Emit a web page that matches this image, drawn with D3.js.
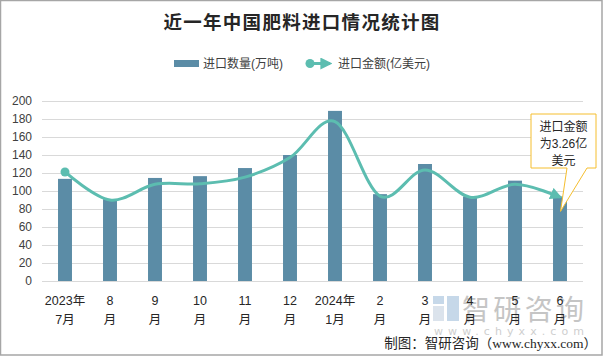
<!DOCTYPE html>
<html><head><meta charset="utf-8">
<script src="https://cdn.jsdelivr.net/npm/d3@7"></script>
<style>
body{margin:0;background:#fff;}
svg{display:block;font-family:"Liberation Sans","Noto Sans CJK SC",sans-serif;}
</style></head>
<body>
<script>
const categories = ["2023年\n7月","8\n月","9\n月","10\n月","11\n月","12\n月","2024年\n1月","2\n月","3\n月","4\n月","5\n月","6\n月"];
const quantity = [113.5, 91, 114.5, 116.5, 125.5, 140, 189, 96.5, 130, 94, 111.5, 94];
const amount = [4.24, 3.15, 3.76, 3.78, 4.04, 4.8, 6.2, 3.3, 4.32, 3.26, 3.76, 3.26];
const yTicks = [0,20,40,60,80,100,120,140,160,180,200];
const title = "近一年中国肥料进口情况统计图";
const legendBar = "进口数量(万吨)";
const legendLine = "进口金额(亿美元)";
const calloutLines = ["进口金额","为3.26亿","美元"];
const credit = "制图：智研咨询（www.chyxx.com）";

const W=604,H=356;
const svg=d3.select("body").append("svg").attr("width",W).attr("height",H);
svg.append("rect").attr("x",0.5).attr("y",0.5).attr("width",601.5).attr("height",354.5)
  .attr("fill","#fff").attr("stroke","#a6a6a6").attr("stroke-width",1.5);

const x=d3.scaleBand().domain(d3.range(categories.length)).range([42.5,582.5]).paddingInner(0.69).paddingOuter(0.345);
const y=d3.scaleLinear().domain([0,200]).range([281,101]);
const y2=d3.scaleLinear().domain([0,7]).range([281,101]);

// title
svg.append("text").attr("x",302).attr("y",29).attr("text-anchor","middle")
  .attr("font-family","'Noto Sans CJK SC',sans-serif").attr("font-weight","bold")
  .attr("font-size",18.5).attr("letter-spacing",1.3).attr("fill","#262626").text(title);

// gridlines
svg.append("g").selectAll("line").data(yTicks).join("line")
  .attr("x1",42).attr("x2",583).attr("y1",d=>Math.round(y(d))+0.5).attr("y2",d=>Math.round(y(d))+0.5)
  .attr("stroke","#d9d9d9").attr("stroke-width",1);

// y axis labels
const ya=svg.append("g").attr("transform","translate(36,0)")
  .call(d3.axisLeft(y).tickValues(yTicks).tickSize(0).tickPadding(4));
ya.select(".domain").remove();
ya.selectAll("text").attr("font-size",12).attr("fill","#404040").attr("font-family","'Liberation Sans',sans-serif");

// watermark (behind labels)
const wm=svg.append("g").attr("opacity",0.5);
wm.append("rect").attr("x",433).attr("y",296).attr("width",11).attr("height",8).attr("fill","#8fb3d4");
wm.append("rect").attr("x",433).attr("y",306).attr("width",11).attr("height",15).attr("fill","#b9c9da");
wm.append("rect").attr("x",447).attr("y",296).attr("width",12).attr("height",25).attr("fill","#8fb3d4");
wm.append("text").attr("x",462).attr("y",320).attr("font-size",28).attr("fill","#8c8c8c")
  .attr("font-family","'Noto Sans CJK SC',sans-serif").attr("textLength",122).attr("lengthAdjust","spacing").text("智研咨询");
wm.append("text").attr("x",434).attr("y",335).attr("font-size",11).attr("fill","#a0a0a0")
  .attr("textLength",150).attr("lengthAdjust","spacing").attr("font-family","'DejaVu Sans',sans-serif").text("www.chyxx.com");

// x axis labels
const xl=svg.append("g");
categories.forEach((c,i)=>{
  const parts=c.split("\n");
  const t=xl.append("text").attr("text-anchor","middle").attr("font-size",12.5).attr("fill","#262626")
    .attr("font-family","'Liberation Sans','Noto Sans CJK SC',sans-serif");
  parts.forEach((p,j)=>t.append("tspan").attr("x",x(i)+x.bandwidth()/2).attr("y",305+j*19).text(p));
});

// bars
svg.append("g").selectAll("rect").data(quantity).join("rect")
  .attr("x",(d,i)=>x(i)).attr("y",d=>y(d)).attr("width",x.bandwidth()).attr("height",d=>y(0)-y(d))
  .attr("fill","#5b8ca6");

// line
const defs=svg.append("defs");
defs.append("marker").attr("id","arr").attr("viewBox","0 0 10 10").attr("refX",8).attr("refY",5)
  .attr("markerWidth",4).attr("markerHeight",4).attr("orient","auto").attr("markerUnits","strokeWidth")
  .append("path").attr("d","M0,0L10,5L0,10z").attr("fill","#5cbdb0");
const line=d3.line().x((d,i)=>x(i)+x.bandwidth()/2).y(d=>y2(d)).curve(d3.curveCardinal.tension(0));
svg.append("path").datum(amount).attr("d",line).attr("fill","none").attr("stroke","#5cbdb0")
  .attr("stroke-width",3).attr("marker-end","url(#arr)");
svg.append("circle").attr("cx",x(0)+x.bandwidth()/2).attr("cy",y2(amount[0])).attr("r",4.5).attr("fill","#5cbdb0");

// callout
const lastX=x(11)+x.bandwidth()/2, lastY=y(quantity[11]);
const bx=531,by=114,bw=65,bh=54;
svg.append("path").attr("d",`M${bx},${by}H${bx+bw}V${by+bh}H587L${lastX+0.5},${lastY+15}L567,${by+bh}H${bx}Z`)
  .attr("fill","#fff").attr("stroke","#f5be2e").attr("stroke-width",1);
calloutLines.forEach((t,i)=>{
  svg.append("text").attr("x",bx+bw/2).attr("y",by+17+i*17).attr("text-anchor","middle")
    .attr("font-size",12).attr("fill","#262626").attr("font-family","'Liberation Sans','Noto Sans CJK SC',sans-serif").text(t);
});

// legend
svg.append("rect").attr("x",174).attr("y",60).attr("width",25).attr("height",7).attr("fill","#5b8ca6");
svg.append("text").attr("x",203).attr("y",68).attr("font-size",12).attr("fill","#404040").text(legendBar);
svg.append("line").attr("x1",310).attr("x2",330).attr("y1",63.5).attr("y2",63.5).attr("stroke","#5cbdb0")
  .attr("stroke-width",3).attr("marker-end","url(#arr)");
svg.append("circle").attr("cx",310).attr("cy",63.5).attr("r",4.5).attr("fill","#5cbdb0");
svg.append("text").attr("x",338).attr("y",68).attr("font-size",12).attr("fill","#404040").text(legendLine);

// credit
svg.append("text").attr("x",597).attr("y",348).attr("text-anchor","end").attr("font-size",13.5)
  .attr("fill","#262626").attr("font-family","'Liberation Serif','Noto Sans CJK SC',serif").text(credit);
</script>
</body></html>
